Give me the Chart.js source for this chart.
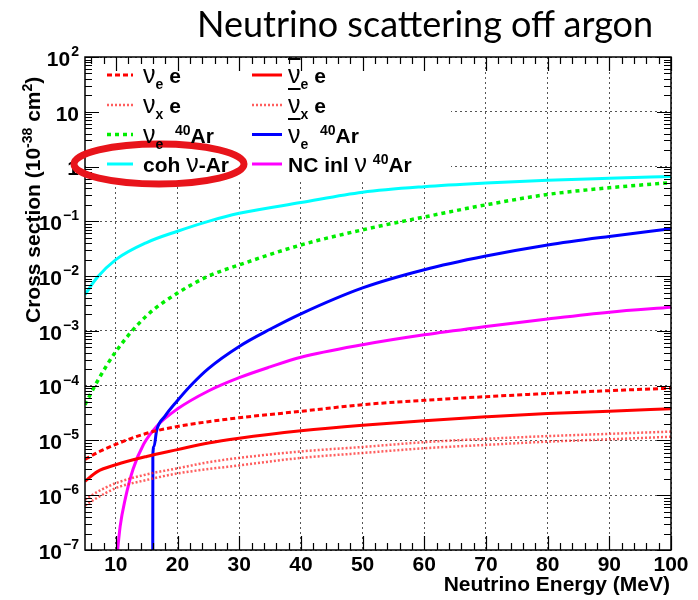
<!DOCTYPE html>
<html>
<head>
<meta charset="utf-8">
<title>Neutrino scattering off argon</title>
<script src="https://cdn.jsdelivr.net/npm/chart.js@4.4.1/dist/chart.umd.min.js"></script>
<style>
  body { margin: 0; background: #fff; }
  #wrap { position: relative; width: 698px; height: 600px; font-family: "Liberation Sans", Arial, sans-serif; color: #000; }
  #chart { position: absolute; left: 0; top: 0; }
  .title { position: absolute; left: 197px; top: 1px; font: 36px Lato, "Noto Sans", sans-serif; line-height: 44px; white-space: nowrap; }
  .ytitle { position: absolute; left: 21px; top: 323px; transform-origin: 0 0; transform: rotate(-90deg); font-weight: bold; font-size: 21px; line-height: 24px; white-space: nowrap; }
  .xtitle { position: absolute; right: 28px; top: 571px; font-weight: bold; font-size: 21px; line-height: 26px; white-space: nowrap; }
  .leg { position: absolute; font-weight: bold; font-size: 21px; line-height: 26px; white-space: nowrap; }
  .nu { font-weight: normal; font-size: 25px; }
  .bar { text-decoration: overline; text-decoration-thickness: 2px; }
  sub { font-size: 14px; vertical-align: -6px; line-height: 0; }
  sup { font-size: 14px; vertical-align: 8px; line-height: 0; }
</style>
</head>
<body>
<div id="wrap">
  <canvas id="chart" width="698" height="600"></canvas>
  <div class="title">Neutrino scattering off argon</div>
  <div class="ytitle">Cross section (10<sup>-38</sup> cm<sup>2</sup>)</div>
  <div class="xtitle">Neutrino Energy (MeV)</div>
  <div id="legend"></div>
</div>
<script>
// Energies (MeV) shared by the smooth curves
const energy = [5, 7, 10, 15, 20, 25, 30, 40, 50, 60, 70, 80, 90, 100];

// Cross sections in 10^-38 cm^2
const nueE  = [4.5e-6, 6.0e-6, 8.5e-6, 1.35e-5, 1.8e-5, 2.2e-5, 2.6e-5, 3.4e-5, 4.5e-5, 5.4e-5, 6.3e-5, 7.2e-5, 8.1e-5, 9.0e-5];
const nuxE  = [8.3e-7, 1.15e-6, 1.66e-6, 2.4e-6, 3.1e-6, 4.0e-6, 4.8e-6, 6.3e-6, 7.6e-6, 9.3e-6, 1.07e-5, 1.2e-5, 1.32e-5, 1.45e-5];
const nueAr = [4.5e-5, 1.2e-4, 4.2e-4, 1.9e-3, 4.9e-3, 1.0e-2, 1.6e-2, 3.7e-2, 7.0e-2, 0.12, 0.20, 0.31, 0.41, 0.51];
const cohAr = [4.6e-3, 9.5e-3, 0.020, 0.041, 0.066, 0.10, 0.14, 0.22, 0.34, 0.43, 0.50, 0.56, 0.61, 0.66];
const anueE = [1.8e-6, 2.7e-6, 3.6e-6, 5.1e-6, 6.8e-6, 9.0e-6, 1.1e-5, 1.5e-5, 1.9e-5, 2.3e-5, 2.7e-5, 3.1e-5, 3.4e-5, 3.8e-5];
const anuxE = [6.5e-7, 9.0e-7, 1.35e-6, 1.9e-6, 2.5e-6, 3.0e-6, 3.5e-6, 4.8e-6, 5.9e-6, 7.2e-6, 8.3e-6, 9.5e-6, 1.05e-5, 1.17e-5];

// Curves with a threshold have their own energies
const anueArEnergy = [15.98, 16.0, 16.2, 16.6, 18.0, 19.9, 22.3, 25, 30, 35, 40, 50, 60, 70, 80, 90, 100];
const anueAr = [1e-8, 5.5e-6, 7.8e-6, 1.5e-5, 2.8e-5, 5.2e-5, 1.05e-4, 2.05e-4, 5.2e-4, 1.07e-3, 2.05e-3, 6.1e-3, 0.0131, 0.0232, 0.037, 0.053, 0.073];
const ncEnergy = [10.1, 10.7, 11.5, 12.8, 14.5, 16.6, 19.9, 25, 30, 35, 40, 50, 60, 70, 80, 90, 100];
const ncAr = [6e-8, 2.7e-7, 8.3e-7, 3.0e-6, 8.5e-6, 1.8e-5, 3.7e-5, 8.0e-5, 1.4e-4, 2.2e-4, 3.3e-4, 5.6e-4, 8.5e-4, 1.2e-3, 1.65e-3, 2.2e-3, 2.7e-3];

// Axis ticks
const xTicks = [10, 20, 30, 40, 50, 60, 70, 80, 90, 100];
const yTicks = [1e-7, 1e-6, 1e-5, 1e-4, 1e-3, 1e-2, 1e-1, 1, 10, 100];
const yTickLabels = [['10', '\u22127'], ['10', '\u22126'], ['10', '\u22125'], ['10', '\u22124'], ['10', '\u22123'],
                     ['10', '\u22122'], ['10', '\u22121'], ['1', ''], ['10', ''], ['10', '2']];

// Legend text, column by column
const legendLabels = [
  '<span class="nu">&nu;</span><sub>e</sub> e',
  '<span class="nu">&nu;</span><sub>x</sub> e',
  '<span class="nu">&nu;</span><sub>e</sub>&nbsp; <sup>40</sup>Ar',
  'coh <span class="nu">&nu;</span>-Ar',
  '<span class="nu bar">&nu;</span><sub>e</sub> e',
  '<span class="nu bar">&nu;</span><sub>x</sub> e',
  '<span class="nu bar">&nu;</span><sub>e</sub>&nbsp; <sup>40</sup>Ar',
  'NC inl <span class="nu">&nu;</span>&nbsp;<sup>40</sup>Ar'
];

function points(xs, ys) {
  return xs.map((x, i) => ({ x: x, y: ys[i] }));
}

const legendRows = [75, 105, 134.5, 164];
const legendCols = [{ x1: 107, x2: 133, text: 143 }, { x1: 252, x2: 282, text: 288 }];

// build the html legend
let legendHtml = '';
legendLabels.forEach((label, i) => {
  const col = legendCols[Math.floor(i / 4)];
  const row = legendRows[i % 4];
  legendHtml += `<div class="leg" style="left:${col.text}px;top:${row - 14}px">${label}</div>`;
});
document.getElementById('legend').innerHTML = legendHtml;

// ROOT style frame, inner ticks, y labels, legend samples and the red ring
const rootStyle = {
  id: 'rootStyle',
  beforeDatasetsDraw(chart) {
    const c = chart.ctx;
    const a = chart.chartArea;
    c.save();
    c.fillStyle = '#fff';
    c.fillRect(a.left + 1, a.top + 1, 450 - a.left, 180 - a.top);
    c.restore();
  },
  afterDatasetsDraw(chart) {
    const c = chart.ctx;
    const a = chart.chartArea;
    const xs = chart.scales.x;
    const ys = chart.scales.y;
    c.save();
    c.strokeStyle = '#000';
    c.lineWidth = 1.5;
    c.strokeRect(a.left, a.top, a.right - a.left, a.bottom - a.top);

    // x ticks, bottom and top
    c.lineWidth = 1.2;
    c.beginPath();
    for (let e = 6; e <= 100; e += 2) {
      const px = Math.round(xs.getPixelForValue(e)) + 0.5;
      const len = e % 10 === 0 ? 14 : 7;
      c.moveTo(px, a.bottom); c.lineTo(px, a.bottom - len);
      c.moveTo(px, a.top); c.lineTo(px, a.top + len);
    }
    // y ticks, left and right
    for (let d = -7; d <= 1; d++) {
      for (let k = 1; k <= 10; k++) {
        const py = Math.round(ys.getPixelForValue(k * Math.pow(10, d))) + 0.5;
        const len = (k === 1 || k === 10) ? 14 : 7;
        c.moveTo(a.left, py); c.lineTo(a.left + len, py);
        c.moveTo(a.right, py); c.lineTo(a.right - len, py);
      }
    }
    c.stroke();

    // y tick labels with exponents
    c.fillStyle = '#000';
    c.textBaseline = 'middle';
    c.textAlign = 'left';
    yTicks.forEach((v, i) => {
      const py = ys.getPixelForValue(v);
      const base = yTickLabels[i][0];
      const exp = yTickLabels[i][1];
      c.font = 'bold 14px "Liberation Sans", Arial, sans-serif';
      const we = exp ? c.measureText(exp).width + 1 : 0;
      c.font = 'bold 21px "Liberation Sans", Arial, sans-serif';
      const wb = c.measureText(base).width;
      const right = a.left - 6;
      c.fillText(base, right - we - wb, py + 3);
      if (exp) {
        c.font = 'bold 14px "Liberation Sans", Arial, sans-serif';
        c.fillText(exp, right - we + 1, py - 5);
      }
    });

    // legend samples use each dataset's own style
    chart.data.datasets.forEach((ds, i) => {
      const col = legendCols[Math.floor(i / 4)];
      const row = legendRows[i % 4];
      c.beginPath();
      c.strokeStyle = ds.borderColor;
      c.lineWidth = ds.borderWidth;
      c.setLineDash(ds.borderDash || []);
      c.moveTo(col.x1, row); c.lineTo(col.x2, row);
      c.stroke();
    });
    c.setLineDash([]);

    // red ring around the coherent scattering entry
    c.beginPath();
    c.strokeStyle = '#e8141b';
    c.lineWidth = 7;
    c.ellipse(159, 164, 85, 20, 0, 0, Math.PI * 2);
    c.stroke();
    c.restore();
  }
};

const tickFont = { family: '"Liberation Sans", Arial, sans-serif', size: 21, weight: 'bold' };

const ctx = document.getElementById('chart').getContext('2d');
const chart = new Chart(ctx, {
  type: 'line',
  data: {
    datasets: [
      { label: 'nu_e e', data: points(energy, nueE), borderColor: '#ff0000', borderWidth: 3, borderDash: [5, 3] },
      { label: 'nu_x e', data: points(energy, nuxE), borderColor: 'rgba(255,40,40,0.75)', borderWidth: 2.5, borderDash: [2, 2] },
      { label: 'nu_e 40Ar', data: points(energy, nueAr), borderColor: '#00ee00', borderWidth: 3.5, borderDash: [4, 4] },
      { label: 'coh nu-Ar', data: points(energy, cohAr), borderColor: '#00ffff', borderWidth: 3 },
      { label: 'anti nu_e e', data: points(energy, anueE), borderColor: '#ff0000', borderWidth: 3 },
      { label: 'anti nu_x e', data: points(energy, anuxE), borderColor: 'rgba(255,40,40,0.75)', borderWidth: 2.5, borderDash: [2, 2] },
      { label: 'anti nu_e 40Ar', data: points(anueArEnergy, anueAr), borderColor: '#0000ff', borderWidth: 3 },
      { label: 'NC inl nu 40Ar', data: points(ncEnergy, ncAr), borderColor: '#ff00ff', borderWidth: 3 }
    ]
  },
  options: {
    responsive: false,
    animation: false,
    devicePixelRatio: 1,
    layout: { padding: { left: 0, right: 27, top: 57, bottom: 0 } },
    elements: {
      point: { radius: 0 },
      line: { cubicInterpolationMode: 'monotone', fill: false }
    },
    plugins: {
      legend: { display: false },
      tooltip: { enabled: false },
      title: { display: false }
    },
    scales: {
      x: {
        type: 'linear',
        min: 5,
        max: 100,
        afterBuildTicks: s => { s.ticks = xTicks.map(v => ({ value: v })); },
        afterFit: s => { s.height = 50; },
        grid: { color: '#555', lineWidth: 1, drawTicks: false },
        border: { display: false, dash: [2, 3] },
        ticks: { color: '#000', font: tickFont, padding: 3, maxRotation: 0, autoSkip: false }
      },
      y: {
        type: 'logarithmic',
        min: 1e-7,
        max: 100,
        afterBuildTicks: s => { s.ticks = yTicks.map(v => ({ value: v })); },
        afterFit: s => { s.width = 85; },
        grid: { color: '#555', lineWidth: 1, drawTicks: false },
        border: { display: false, dash: [2, 3] },
        ticks: { display: false }
      }
    }
  },
  plugins: [rootStyle]
});
</script>
</body>
</html>
